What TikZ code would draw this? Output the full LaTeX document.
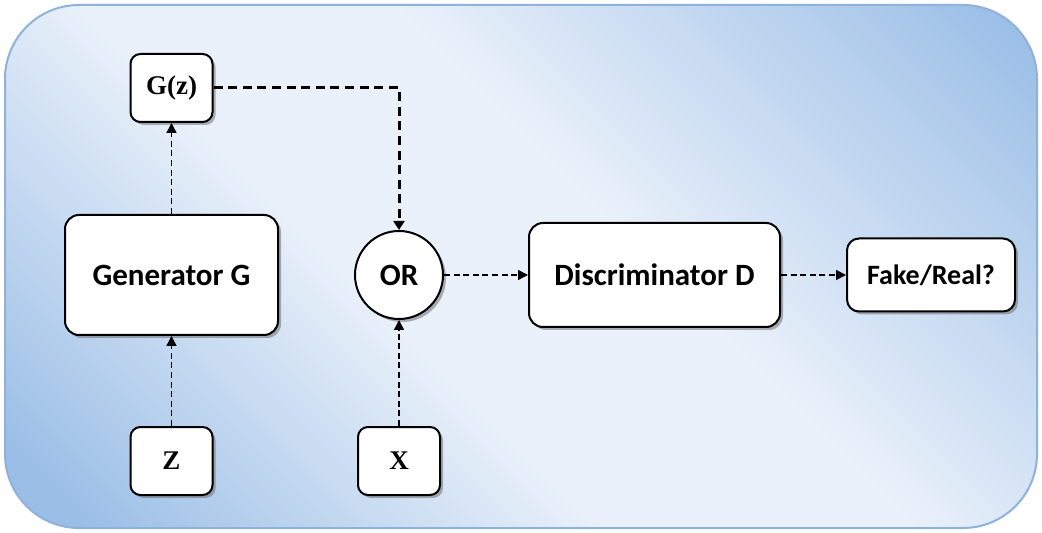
\documentclass[tikz,border=0pt]{standalone}
\usepackage{fontspec}
\setmainfont{Liberation Serif}
\setsansfont{Carlito}
\usetikzlibrary{positioning,arrows.meta,shadows}
\definecolor{bgblue}{HTML}{9ABEE6}
\definecolor{bglight}{HTML}{EAF1FA}
\definecolor{bgedge}{HTML}{8DB2DC}
\pgfdeclarehorizontalshading{bgmirror}{100bp}{color(0bp)=(bgblue); color(18bp)=(bgblue); color(42bp)=(bglight); color(56bp)=(bglight); color(84bp)=(bgblue); color(100bp)=(bgblue)}

\begin{document}
\begin{tikzpicture}[x=0.5pt,y=-0.5pt,
  box/.style={draw,line width=1pt,fill=white,rounded corners=7pt,drop shadow={shadow xshift=1.5pt,shadow yshift=-1.5pt,fill=black!60}},
  block/.style={box,font=\sffamily\bfseries\fontsize{15.5}{18}\selectfont},
  orbox/.style={block,circle,sharp corners,minimum size=44pt,inner sep=0pt},
  small/.style={box,rounded corners=5pt,minimum width=41pt,minimum height=34pt,font=\bfseries\fontsize{13.5}{16}\selectfont},
  dashedarrow/.style={line width=0.7pt,dash pattern=on 3pt off 1.8pt,-{Triangle[length=5pt,width=5pt]}},
  thickarrow/.style={line width=1.5pt,dash pattern=on 4.5pt off 2.8pt,-{Triangle[length=4.5pt,width=5.5pt]}}]
	\useasboundingbox (0,0) rectangle (1042,533);
	\shadedraw[draw=bgedge,line width=1pt,shading=bgmirror,shading angle=45,rounded corners=37pt] (5,5) rectangle (1037,528);
	\node[orbox] (or) at (399,275) {OR};
	\node[block,minimum width=106.5pt,minimum height=60pt,left=37.5pt of or]              (gen)  {Generator G};
	\node[block,minimum width=125.5pt,minimum height=52pt,right=42pt of or]               (disc) {Discriminator D};
	\node[block,rounded corners=6pt,minimum width=84pt,minimum height=36.5pt,right=32.5pt of disc,font=\sffamily\bfseries\fontsize{14}{16}\selectfont] (fake) {Fake/Real?};
	\node[small,above=45.5pt of gen] (gz) {G(z)};
	\node[small,below=45pt of gen]   (z)  {Z};
	\node[small,at=(or|-z)]          (x)  {X};
	\path[dashedarrow]
		(z) edge (gen) (gen) edge (gz)
		(x) edge (or) (or) edge (disc) (disc) edge (fake)
	; %-path-%
	\draw[thickarrow] (gz) -| (or);
\end{tikzpicture}
\end{document}
